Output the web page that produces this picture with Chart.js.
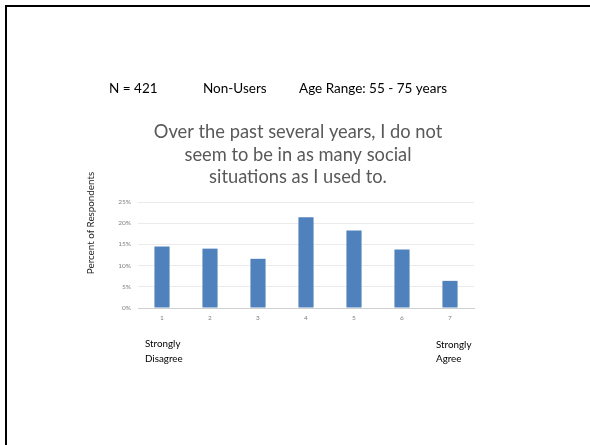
<!DOCTYPE html>
<html>
<head>
<meta charset="utf-8">
<script src="https://cdn.jsdelivr.net/npm/chart.js@4.4.1/dist/chart.umd.min.js"></script>
<style>
  html, body { margin: 0; padding: 0; background: #fff; }
  #wrap { position: relative; width: 590px; height: 445px; overflow: hidden; }
  #frame { position: absolute; left: 5px; top: 5px; width: 600px; height: 460px;
           border-left: 2px solid #000; border-top: 2px solid #000; }
  #myChart { position: absolute; left: 0; top: 0; }
</style>
</head>
<body>
<div id="wrap">
  <div id="frame"></div>
  <canvas id="myChart" width="590" height="445"></canvas>
</div>
<script>
// data
var categories = ['1', '2', '3', '4', '5', '6', '7'];
var percentValues = [14.5, 14.0, 11.6, 21.4, 18.3, 13.8, 6.4];
var yTicks = [0, 5, 10, 15, 20, 25];

var titleLines = ['Over the past several years, I do not', 'seem to be in as many social', 'situations as I used to.'];
var FONT = 'Lato, "Open Sans", sans-serif';

// draws the slide text around the chart
var slideText = {
    id: 'slideText',
    afterDraw: function (chart) {
        var ctx = chart.ctx;
        ctx.save();
        ctx.textBaseline = 'alphabetic';

        ctx.fillStyle = '#000';
        ctx.font = '13.5px ' + FONT;
        ctx.textAlign = 'left';
        ctx.fillText('N = 421', 109, 93);
        ctx.fillText('Non-Users', 203, 93);
        ctx.fillText('Age Range: 55 - 75 years', 299, 93);

        ctx.fillStyle = '#595959';
        ctx.font = '18.3px ' + FONT;
        ctx.textAlign = 'center';
        titleLines.forEach(function (line, i) {
            ctx.fillText(line, 298, 138 + i * 22.7);
        });

        ctx.fillStyle = '#000';
        ctx.font = '9.8px ' + FONT;
        ctx.textAlign = 'left';
        ctx.fillText('Strongly', 145, 347);
        ctx.fillText('Disagree', 145, 362);
        ctx.fillText('Strongly', 436, 348);
        ctx.fillText('Agree', 436, 362);

        ctx.translate(93.5, 223);
        ctx.rotate(-Math.PI / 2);
        ctx.font = '9.8px ' + FONT;
        ctx.textAlign = 'center';
        ctx.fillStyle = '#222';
        ctx.fillText('Percent of Respondents', 0, 0);
        ctx.restore();
    }
};

var ctx = document.getElementById('myChart').getContext('2d');
var myChart = new Chart(ctx, {
    type: 'bar',
    data: {
        labels: categories,
        datasets: [{
            label: 'Percent of Respondents',
            data: percentValues,
            backgroundColor: '#4F81BD',
            borderWidth: 0,
            barPercentage: 0.9,
            categoryPercentage: 0.35
        }]
    },
    options: {
        responsive: false,
        animation: false,
        layout: { padding: { left: 98, right: 116, top: 202, bottom: 117 } },
        plugins: {
            legend: { display: false },
            tooltip: { enabled: false }
        },
        scales: {
            x: {
                afterFit: function (scale) { scale.height = 20; },
                grid: { display: false, drawTicks: false },
                border: { display: true, color: '#d0d0d0', width: 1 },
                ticks: { color: '#7f7f7f', font: { size: 6.5, family: FONT }, padding: 6 }
            },
            y: {
                min: yTicks[0],
                max: yTicks[yTicks.length - 1],
                afterFit: function (scale) { scale.width = 40; },
                afterBuildTicks: function (scale) {
                    scale.ticks = yTicks.map(function (v) { return { value: v }; });
                },
                grid: { color: '#ebebeb', lineWidth: 1, drawTicks: false },
                border: { display: false },
                ticks: {
                    color: '#7f7f7f',
                    font: { size: 6.5, family: FONT },
                    padding: 7,
                    callback: function (v) { return v + '%'; }
                }
            }
        }
    },
    plugins: [slideText]
});
</script>
</body>
</html>
